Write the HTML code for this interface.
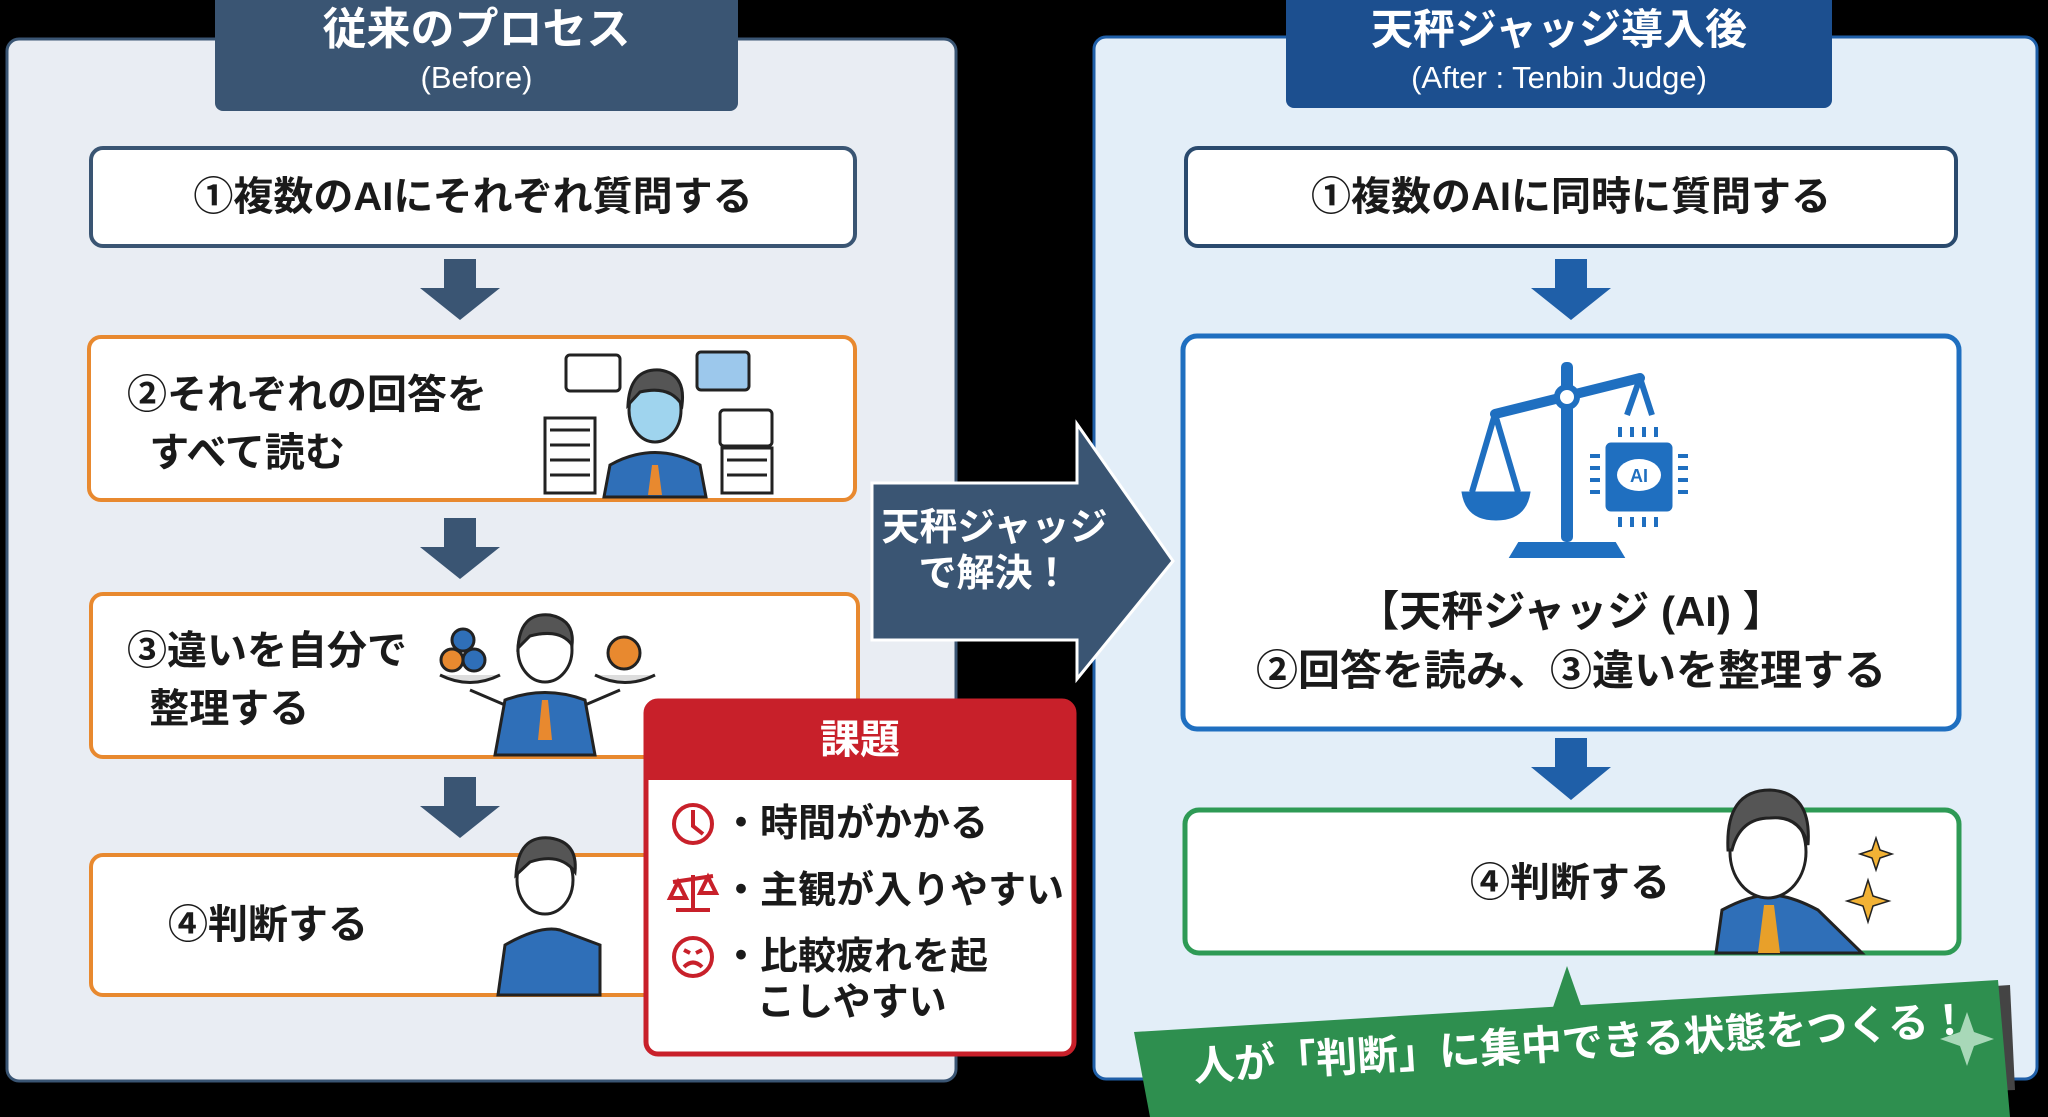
<!DOCTYPE html>
<html><head><meta charset="utf-8"><style>
html,body{margin:0;padding:0;background:#000;}
body{width:2048px;height:1117px;overflow:hidden;position:relative;font-family:"Liberation Sans","Noto Sans CJK JP",sans-serif;font-weight:bold;}
.t{position:absolute;white-space:nowrap;color:#1a1a1a;font-family:"Liberation Sans","Noto Sans CJK JP",sans-serif;font-weight:bold;}
</style></head><body>
<svg width="2048" height="1117" style="position:absolute;left:0;top:0">
<!-- left panel -->
<rect x="7" y="39" width="949" height="1042" rx="12" fill="#e9edf3" stroke="#3a5573" stroke-width="3"/>
<rect x="215" y="-10" width="523" height="121" rx="8" fill="#3a5573"/>
<rect x="91" y="148" width="764" height="98" rx="12" fill="#fff" stroke="#3a5573" stroke-width="4"/>
<rect x="89" y="337" width="766" height="163" rx="12" fill="#fff" stroke="#e8892f" stroke-width="4"/>
<rect x="91" y="594" width="767" height="163" rx="12" fill="#fff" stroke="#e8892f" stroke-width="4"/>
<rect x="91" y="855" width="764" height="140" rx="12" fill="#fff" stroke="#e8892f" stroke-width="4"/>
<g fill="#3a5573">
<polygon points="444,259 476,259 476,288 500,288 460,320 420,288 444,288"/>
<polygon points="444,518 476,518 476,547 500,547 460,579 420,547 444,547"/>
<polygon points="444,777 476,777 476,806 500,806 460,838 420,806 444,806"/>
</g>
<!-- illustration 2: stressed person -->
<g stroke="#222" stroke-width="3" fill="#fff">
<rect x="545" y="418" width="50" height="75"/><line x1="550" y1="430" x2="590" y2="430"/><line x1="550" y1="445" x2="590" y2="445"/><line x1="550" y1="460" x2="590" y2="460"/><line x1="550" y1="475" x2="590" y2="475"/>
<rect x="722" y="448" width="50" height="45"/><line x1="727" y1="460" x2="767" y2="460"/><line x1="727" y1="475" x2="767" y2="475"/>
<rect x="566" y="355" width="54" height="36" rx="4"/><rect x="720" y="410" width="52" height="36" rx="4"/>
<rect x="697" y="352" width="52" height="38" rx="4" fill="#9cc8ec"/>
<path d="M610 465 Q655 440 700 465 L706 497 L604 497Z" fill="#2f6fb8"/>
<ellipse cx="655" cy="410" rx="26" ry="32" fill="#9fd4ee"/>
<path d="M628 405 Q630 368 660 370 Q686 374 682 405 Q670 385 640 392Z" fill="#555"/>
</g>
<polygon points="652,465 658,465 662,495 648,495" fill="#e8892f"/>
<!-- illustration 3 -->
<g stroke="#222" stroke-width="3">
<path d="M505 700 Q545 685 585 700 L595 755 L495 755Z" fill="#2f6fb8"/>
<ellipse cx="545" cy="650" rx="27" ry="32" fill="#fff"/>
<path d="M518 648 Q520 612 550 615 Q575 620 572 645 Q560 628 530 636Z" fill="#555"/>
<path d="M505 705 L470 690 M585 705 L620 690" fill="none"/>
<path d="M440 675 Q470 690 500 675" fill="#ddd"/><path d="M595 675 Q625 690 655 675" fill="#ddd"/>
<circle cx="463" cy="640" r="11" fill="#2f6fb8"/><circle cx="452" cy="660" r="11" fill="#e8892f"/><circle cx="474" cy="660" r="11" fill="#2f6fb8"/>
<circle cx="624" cy="653" r="16" fill="#e8892f"/>
</g>
<polygon points="542,700 548,700 552,740 538,740" fill="#e8892f"/>
<!-- illustration 4 -->
<g stroke="#222" stroke-width="3">
<path d="M498 995 L505 945 Q540 925 560 930 L600 945 L600 995Z" fill="#2f6fb8"/>
<ellipse cx="545" cy="880" rx="28" ry="34" fill="#fff"/>
<path d="M516 875 Q518 835 550 838 Q578 842 575 872 Q560 852 530 862Z" fill="#555"/>
</g>
<!-- 課題 box -->
<rect x="646" y="701" width="428" height="353" rx="12" fill="#fff" stroke="#c8202a" stroke-width="5"/>
<path d="M646 713 Q646 701 658 701 L1062 701 Q1074 701 1074 713 L1074 780 L646 780Z" fill="#c8202a"/>
<g stroke="#c8202a" stroke-width="4" fill="none">
<circle cx="693" cy="824" r="19"/><path d="M693 810 L693 826 L703 834"/>
<circle cx="693" cy="957" r="19"/><path d="M684 950 L690 953 M702 950 L696 953 M684 967 Q693 958 702 967"/>
<path d="M693 875 L693 908 M676 910 L710 910 M673 882 L713 876 M678 882 L670 898 L686 898Z M708 877 L700 893 L716 893Z"/>
</g>
<!-- right panel -->
<rect x="1094" y="37" width="943" height="1042" rx="12" fill="#e3eef8" stroke="#1f5fa8" stroke-width="3"/>
<rect x="1286" y="-10" width="546" height="118" rx="8" fill="#1c4f8f"/>
<rect x="1186" y="148" width="770" height="98" rx="12" fill="#fff" stroke="#2a4a6e" stroke-width="4"/>
<rect x="1183" y="336" width="776" height="393" rx="14" fill="#fff" stroke="#1f6fc0" stroke-width="5"/>
<rect x="1185" y="810" width="774" height="143" rx="14" fill="#fff" stroke="#2e9a55" stroke-width="5"/>
<g fill="#1f5fa8">
<polygon points="1555,259 1587,259 1587,288 1611,288 1571,320 1531,288 1555,288"/>
<polygon points="1555,738 1587,738 1587,767 1611,767 1571,800 1531,767 1555,767"/>
</g>
<!-- middle arrow (on top of panels) -->
<polygon points="872,483 1077,483 1077,424 1173,561 1077,679 1077,640 872,640" fill="#3a5573" stroke="#fff" stroke-width="3"/>
<!-- scale icon -->
<g fill="#1f6fc0" stroke="#1f6fc0">
<rect x="1561" y="362" width="12" height="180" stroke="none" rx="5"/>
<path d="M1520 545 L1614 545 L1620 555 L1514 555Z" stroke-width="6"/>
<line x1="1495" y1="414" x2="1640" y2="378" stroke-width="10" stroke-linecap="round"/>
<circle cx="1567" cy="397" r="10" fill="#fff" stroke-width="6"/>
<path d="M1495 414 L1472 492 M1495 414 L1518 492 M1640 378 L1627 415 M1640 378 L1652 415" stroke-width="6" fill="none"/>
<path d="M1462 492 L1530 492 Q1526 520 1496 520 Q1466 520 1462 492Z"/>
<rect x="1606" y="443" width="66" height="68" rx="5"/>
<path d="M1620 437v-10M1632 437v-10M1644 437v-10M1656 437v-10M1620 517v10M1632 517v10M1644 517v10M1656 517v10M1600 456h-10M1600 468h-10M1600 480h-10M1600 492h-10M1678 456h10M1678 468h10M1678 480h10M1678 492h10" stroke-width="4"/>
<ellipse cx="1639" cy="475" rx="22" ry="16" fill="#fff" stroke="none"/>
</g>
<text x="1639" y="482" font-size="18" font-family="Liberation Sans" font-weight="bold" fill="#1f6fc0" text-anchor="middle">AI</text>
<!-- person right -->
<g stroke="#222" stroke-width="3">
<path d="M1716 953 L1722 910 Q1750 895 1770 895 Q1790 895 1818 910 L1862 953Z" fill="#2f6fb8"/>
<ellipse cx="1768" cy="852" rx="38" ry="46" fill="#fff"/>
<path d="M1728 850 Q1725 790 1770 790 Q1812 792 1808 845 Q1800 815 1770 818 Q1740 818 1732 850Z" fill="#555"/>
</g>
<polygon points="1764,905 1774,905 1780,953 1758,953" fill="#e8a02a"/>
<path d="M1876 838 l4 12 12 4 -12 4 -4 12 -4 -12 -12 -4 12 -4z M1868 880 l5 16 16 5 -16 5 -5 16 -5 -16 -16 -5 16 -5z" fill="#f2b235" stroke="#222" stroke-width="1.5"/>
<!-- banner -->
<polygon points="1180,1040 2010,985 2015,1090 1195,1117" fill="#444"/>
<polygon points="1134,1032 1998,980 2010,1117 1150,1117" fill="#2e8f4f"/>
<polygon points="1548,1022 1567,966 1586,1020" fill="#2e8f4f"/>
<path d="M1967 1012 l7 20 20 7 -20 7 -7 20 -7 -20 -20 -7 20 -7z" fill="#a8d8b8"/>
</svg>
<div class="t" style="left:215px;top:4px;width:523px;text-align:center;color:#fff;font-size:44px;line-height:52px">従来のプロセス</div>
<div class="t" style="left:215px;top:58px;width:523px;text-align:center;color:#fff;font-size:31px;line-height:40px;font-weight:normal">(Before)</div>
<div class="t" style="left:91px;top:172px;width:764px;text-align:center;font-size:40px;line-height:50px">①複数のAIにそれぞれ質問する</div>
<div class="t" style="left:127px;top:366px;font-size:40px;line-height:58px">②それぞれの回答を<br>&nbsp;&nbsp;すべて読む</div>
<div class="t" style="left:127px;top:622px;font-size:40px;line-height:58px">③違いを自分で<br>&nbsp;&nbsp;整理する</div>
<div class="t" style="left:168px;top:900px;font-size:40px;line-height:50px">④判断する</div>
<div class="t" style="left:646px;top:715px;width:428px;text-align:center;color:#fff;font-size:40px;line-height:50px">課題</div>
<div class="t" style="left:722px;top:800px;font-size:38px;line-height:48px">・時間がかかる</div>
<div class="t" style="left:722px;top:867px;font-size:38px;line-height:48px">・主観が入りやすい</div>
<div class="t" style="left:722px;top:933px;font-size:38px;line-height:48px">・比較疲れを起</div>
<div class="t" style="left:757px;top:979px;font-size:38px;line-height:48px">こしやすい</div>
<div class="t" style="left:872px;top:505px;width:245px;text-align:center;color:#fff;font-size:38px;line-height:46px">天秤ジャッジ<br>で解決！</div>
<div class="t" style="left:1286px;top:4px;width:546px;text-align:center;color:#fff;font-size:42px;line-height:52px">天秤ジャッジ導入後</div>
<div class="t" style="left:1286px;top:58px;width:546px;text-align:center;color:#fff;font-size:31px;line-height:40px;font-weight:normal">(After : Tenbin Judge)</div>
<div class="t" style="left:1186px;top:172px;width:770px;text-align:center;font-size:40px;line-height:50px">①複数のAIに同時に質問する</div>
<div class="t" style="left:1183px;top:586px;width:776px;text-align:center;font-size:42px;line-height:52px">【天秤ジャッジ (AI) 】</div>
<div class="t" style="left:1183px;top:645px;width:776px;text-align:center;font-size:42px;line-height:52px">②回答を読み、③違いを整理する</div>
<div class="t" style="left:1470px;top:858px;font-size:40px;line-height:50px">④判断する</div>
<div class="t" style="left:1192px;top:1042px;color:#fff;font-size:41px;line-height:50px;transform:rotate(-3.5deg);transform-origin:left top">人が「判断」に集中できる状態をつくる！</div>
</body></html>
